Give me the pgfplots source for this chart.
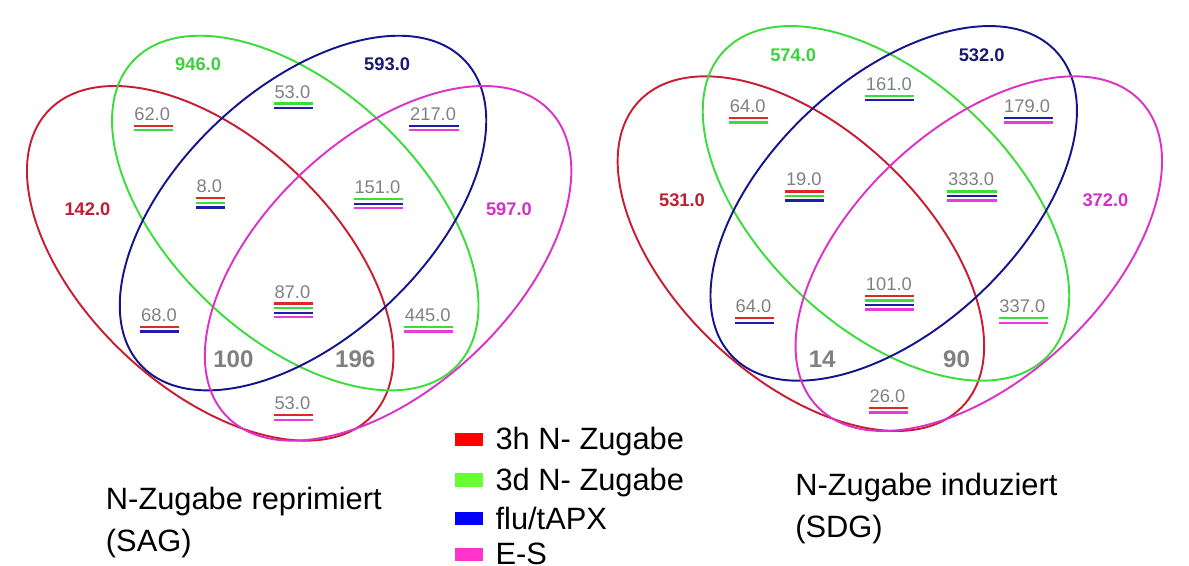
\documentclass[border=0pt]{standalone}
\usepackage{pgfplots}
\pgfplotsset{compat=1.18}
\usepackage{fontspec}
\setmainfont{Liberation Sans}
\definecolor{ered}{RGB}{200,30,50}
\definecolor{egreen}{RGB}{60,220,60}
\definecolor{eblue}{RGB}{20,20,140}
\definecolor{epink}{RGB}{220,50,200}
\definecolor{tred}{RGB}{190,30,45}
\definecolor{tgreen}{RGB}{60,210,60}
\definecolor{tblue}{RGB}{25,25,110}
\definecolor{tpink}{RGB}{210,50,200}
\definecolor{lgray}{RGB}{128,128,128}
\definecolor{ured}{RGB}{220,40,40}
\definecolor{ugreen}{RGB}{60,220,60}
\definecolor{ublue}{RGB}{30,30,170}
\definecolor{upink}{RGB}{230,60,220}
\definecolor{kred}{RGB}{255,0,0}
\definecolor{kgreen}{RGB}{102,255,51}
\definecolor{kblue}{RGB}{0,0,255}
\definecolor{kpink}{RGB}{255,51,204}
\newcommand{\vell}[4]{\draw[#1, line width=2bp, rotate around={#4:(axis cs:#2,#3)}] (axis cs:#2,#3) ellipse [x radius=230bp, y radius=129bp];}
\newcommand{\ul}[2]{\draw[#2, line width=2.4bp] ([xshift=-0.5bp,yshift=-#1bp]t.base west) -- ([xshift=2.5bp,yshift=-#1bp]t.base east);}
\newcommand{\lab}[3]{\node[font=\fontsize{19}{22}\selectfont, text=lgray, inner sep=0pt, anchor=base] (t) at (axis cs:#1,#2) {#3};}
\newcommand{\labB}[5]{\lab{#1}{#2}{#3}\ul{5.7}{#4}\ul{10.4}{#5}}
\newcommand{\labC}[6]{\lab{#1}{#2}{#3}\ul{5.7}{#4}\ul{10.4}{#5}\ul{15.1}{#6}}
\newcommand{\labD}[7]{\lab{#1}{#2}{#3}\ul{5.7}{#4}\ul{10.4}{#5}\ul{15.1}{#6}\ul{19.8}{#7}}
\newcommand{\clab}[4]{\node[font=\bfseries\fontsize{19}{22}\selectfont, text=#4, inner sep=0pt] at (axis cs:#1,#2) {#3};}
\newcommand{\blab}[3]{\node[font=\bfseries\fontsize{25}{28}\selectfont, text=lgray, inner sep=0pt] at (axis cs:#1,#2) {#3};}
\newcommand{\key}[3]{\fill[#1] (axis cs:453,#2-7) rectangle (axis cs:482,#2+7);
  \node[font=\fontsize{32}{36}\selectfont, anchor=base west, inner sep=0pt] at (axis cs:495,#2+11) {#3};}
\begin{document}
\begin{tikzpicture}
\begin{axis}[scale only axis, width=1189bp, height=579bp,
  xmin=0, xmax=1189, ymin=0, ymax=579, y dir=reverse,
  hide axis, clip=false]
% ---- left diagram (SAG) ----
\vell{ered}{200}{258}{-43.2}
\vell{egreen}{288}{206}{-43.2}
\vell{eblue}{296}{206}{43.2}
\vell{epink}{384}{258}{43.2}
\clab{187.5}{52}{946.0}{tgreen}
\clab{383}{52}{593.0}{tblue}
\clab{73}{202}{142.0}{tred}
\clab{509}{202}{597.0}{tpink}
\labB{285}{87}{53.0}{ugreen}{ublue}
\labB{140}{110}{62.0}{ured}{ugreen}
\labB{430.5}{110}{217.0}{ublue}{upink}
\labC{199}{185}{8.0}{ured}{ugreen}{ublue}
\labC{373}{186}{151.0}{ugreen}{ublue}{upink}
\labB{147}{318}{68.0}{ured}{ublue}
\labD{285}{294}{87.0}{ured}{ugreen}{ublue}{upink}
\labB{425}{318}{445.0}{ugreen}{upink}
\labB{285}{409.5}{53.0}{ured}{upink}
\blab{224}{357}{100}
\blab{350}{357}{196}
% ---- right diagram (SDG) ----
\vell{ered}{811}{248}{-43.2}
\vell{egreen}{899}{196}{-43.2}
\vell{eblue}{907}{196}{43.2}
\vell{epink}{995}{248}{43.2}
\clab{803}{43}{574.0}{tgreen}
\clab{998}{43}{532.0}{tblue}
\clab{688}{193}{531.0}{tred}
\clab{1126}{193}{372.0}{tpink}
\labB{902}{79}{161.0}{ugreen}{ublue}
\labB{756}{102}{64.0}{ured}{ugreen}
\labB{1045}{102}{179.0}{ublue}{upink}
\labC{814}{178}{19.0}{ured}{ugreen}{ublue}
\labC{987}{178}{333.0}{ugreen}{ublue}{upink}
\labB{762}{309}{64.0}{ured}{ublue}
\labD{902}{286}{101.0}{ured}{ugreen}{ublue}{upink}
\labB{1040}{309}{337.0}{ugreen}{upink}
\labB{900.5}{402}{26.0}{ured}{upink}
\blab{833}{357}{14}
\blab{972}{357}{90}
% ---- legend ----
\key{kred}{440}{3h N- Zugabe}
\key{kgreen}{482}{3d N- Zugabe}
\key{kblue}{522}{flu/tAPX}
\key{kpink}{559}{E-S}
% ---- titles ----
\node[font=\fontsize{32}{36}\selectfont, anchor=base west, inner sep=0pt] at (axis cs:92,513) {N-Zugabe reprimiert};
\node[font=\fontsize{32}{36}\selectfont, anchor=base west, inner sep=0pt] at (axis cs:92,556) {(SAG)};
\node[font=\fontsize{32}{36}\selectfont, anchor=base west, inner sep=0pt] at (axis cs:805,498) {N-Zugabe induziert};
\node[font=\fontsize{32}{36}\selectfont, anchor=base west, inner sep=0pt] at (axis cs:805,542) {(SDG)};
\end{axis}
\end{tikzpicture}
\end{document}
